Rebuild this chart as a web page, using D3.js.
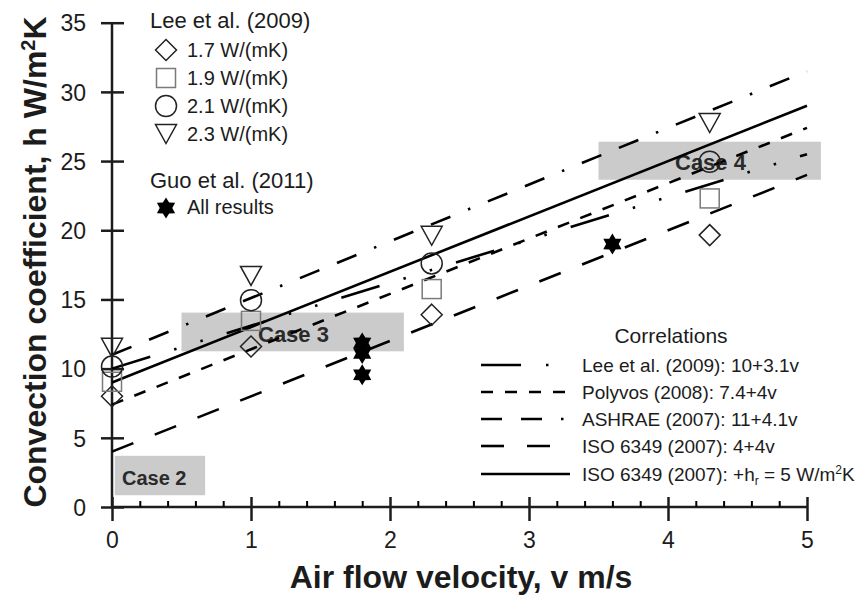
<!DOCTYPE html>
<html>
<head>
<meta charset="utf-8">
<script src="https://cdn.jsdelivr.net/npm/d3@7"></script>
<style>
  html, body { margin: 0; padding: 0; background: #fff; }
  svg { display: block; font-family: "Liberation Sans", Arial, sans-serif; }
</style>
</head>
<body>
<svg id="chart" width="865" height="601"></svg>
<script>
// Lee et al. (2009): measured h at four air velocities for four conductivities
const leeVelocity = [0, 1, 2.3, 4.3];
const lee17 = [8.0, 11.6, 13.9, 19.65];
const lee19 = [9.05, 13.45, 15.75, 22.3];
const lee21 = [10.15, 14.95, 17.6, 24.95];
const lee23 = [11.5, 16.7, 19.6, 27.75];
const leeLabels = ["1.7 W/(mK)", "1.9 W/(mK)", "2.1 W/(mK)", "2.3 W/(mK)"];

// Guo et al. (2011)
const guoVelocity = [1.8, 1.8, 1.8, 3.6];
const guoH = [11.85, 11.1, 9.55, 19.0];

// Linear correlations h = a + b*v
const corrNames = ["Lee et al. (2009): 10+3.1v", "Polyvos (2008): 7.4+4v", "ASHRAE (2007): 11+4.1v", "ISO 6349 (2007): 4+4v", "ISO 6349 (2007): +h"];
const corrIntercept = [10, 7.4, 11, 4, 9];
const corrSlope = [3.1, 4, 4.1, 4, 4];

// Highlighted cases: [v0, v1, h0, h1]
const caseNames = ["Case 2", "Case 3", "Case 4"];
const caseBoxes = [[0.02, 0.67, 0.85, 3.7], [0.5, 2.1, 11.25, 14.05], [3.5, 5.1, 23.65, 26.4]];

const xTicks = [0, 1, 2, 3, 4, 5];
const yTicks = [0, 5, 10, 15, 20, 25, 30, 35];

const svg = d3.select("#chart");
const x = d3.scaleLinear().domain([0, 5]).range([112, 807]);
const y = d3.scaleLinear().domain([0, 35]).range([507, 22.7]);

const ink = "#1c1c1c";
const dashes = ["40,25,2.5,25,2.5,25", "12,12", "21,19,21,19,2.5,19", "23,23", null];

// case boxes
const caseG = svg.append("g");
caseBoxes.forEach((b, i) => {
  caseG.append("rect")
    .attr("x", x(b[0])).attr("width", x(b[1]) - x(b[0]))
    .attr("y", y(b[3])).attr("height", y(b[2]) - y(b[3]))
    .attr("fill", "#cbcbcb");
});
const caseTextPos = [[122, 485, 20], [258, 342, 22], [675, 170, 22]];
caseNames.forEach((n, i) => {
  caseG.append("text").attr("x", caseTextPos[i][0]).attr("y", caseTextPos[i][1])
    .attr("font-size", caseTextPos[i][2]).attr("font-weight", "bold").attr("fill", "#2a2a2a").text(n);
});

// axes
const xAxis = svg.append("g").attr("transform", `translate(0,${y(0)})`)
  .call(d3.axisBottom(x).tickValues(xTicks).tickSize(14).tickPadding(11).tickFormat(d3.format("d")));
xAxis.selectAll(".tick line").attr("y1", -10).attr("stroke-width", 2.5);
const xMinor = d3.range(0, 5.001, 0.2).filter(v => Math.abs(v - Math.round(v)) > 0.01);
svg.append("g").attr("transform", `translate(0,${y(0)})`)
  .call(d3.axisBottom(x).tickValues(xMinor).tickSize(-6).tickFormat(""))
  .call(g => g.select(".domain").remove())
  .selectAll(".tick line").attr("stroke-width", 2);

const yAxis = svg.append("g").attr("transform", `translate(${x(0)},0)`)
  .call(d3.axisLeft(y).tickValues(yTicks).tickSize(11).tickPadding(15).tickFormat(d3.format("d")));
yAxis.selectAll(".tick line").attr("x1", 12).attr("stroke-width", 2.5);

[xAxis, yAxis].forEach(a => {
  a.select(".domain").attr("stroke", ink).attr("stroke-width", 2.5).attr("d",
    a === xAxis ? `M${x(0)},0H${x(5)}` : `M0,${y(0)}V${y(35)}`);
  a.selectAll(".tick text").attr("font-size", 23).attr("fill", ink).attr("font-family", "Liberation Sans, Arial, sans-serif");
  a.selectAll(".tick line").attr("stroke", ink);
});
yAxis.selectAll(".tick text").attr("dy", "0.36em");

svg.append("text").attr("x", 461).attr("y", 588).attr("text-anchor", "middle")
  .attr("font-size", 32).attr("font-weight", "bold").attr("fill", ink).text("Air flow velocity, v m/s");
const yTitle = svg.append("text").attr("transform", "translate(46,262) rotate(-90)").attr("text-anchor", "middle")
  .attr("font-size", 32).attr("font-weight", "bold").attr("fill", ink);
yTitle.append("tspan").text("Convection coefficient, h W/m");
yTitle.append("tspan").attr("font-size", 20).attr("dy", -11).text("2");
yTitle.append("tspan").attr("dy", 11).text("K");

// correlation lines
const line = d3.line().x(d => x(d[0])).y(d => y(d[1]));
corrIntercept.forEach((a, i) => {
  const pts = [0, 5].map(v => [v, a + corrSlope[i] * v]);
  svg.append("path").attr("d", line(pts)).attr("fill", "none").attr("stroke", "#000")
    .attr("stroke-width", 2.6).attr("stroke-dasharray", dashes[i]);
});

// marker shapes
const starPath = (R) => {
  const r = R * 0.6, pts = [];
  for (let k = 0; k < 12; k++) {
    const ang = -Math.PI / 2 + k * Math.PI / 6, rad = k % 2 ? r : R;
    pts.push([rad * Math.cos(ang), rad * Math.sin(ang)]);
  }
  return "M" + pts.map(p => p.join(",")).join("L") + "Z";
};
const markers = [
  g => g.append("path").attr("d", "M0,-10.5L10.5,0L0,10.5L-10.5,0Z").attr("fill", "#fff").attr("stroke", "#222").attr("stroke-width", 1.5),
  g => g.append("rect").attr("x", -9.5).attr("y", -9.5).attr("width", 19).attr("height", 19).attr("fill", "#fff").attr("stroke", "#7a7a7a").attr("stroke-width", 1.5),
  g => g.append("circle").attr("r", 10.5).attr("fill", "#fff").attr("stroke", "#222").attr("stroke-width", 1.5),
  g => g.append("path").attr("d", "M-10.5,-9.5L10.5,-9.5L0,9.5Z").attr("fill", "#fff").attr("stroke", "#222").attr("stroke-width", 1.5)
];
const starMarker = g => g.append("path").attr("d", starPath(10.5)).attr("fill", "#000");

// data points (open markers are transparent in the plot area)
[lee17, lee19, lee21, lee23].forEach((series, si) => {
  series.forEach((h, k) => {
    const g = svg.append("g").attr("transform", `translate(${x(leeVelocity[k])},${y(h)})`);
    markers[si](g).attr("fill", "none");
  });
});
guoH.forEach((h, k) => {
  starMarker(svg.append("g").attr("transform", `translate(${x(guoVelocity[k])},${y(h)})`));
});

// top-left legend
const lg = svg.append("g").attr("fill", ink);
lg.append("text").attr("x", 150).attr("y", 28).attr("font-size", 22).text("Lee et al. (2009)");
const legRows = [50, 78, 106, 134];
leeLabels.forEach((t, i) => {
  markers[i](lg.append("g").attr("transform", `translate(166,${legRows[i]})`));
  lg.append("text").attr("x", 187).attr("y", legRows[i] + 7).attr("font-size", 20).text(t);
});
lg.append("text").attr("x", 150).attr("y", 188).attr("font-size", 22).text("Guo et al. (2011)");
starMarker(lg.append("g").attr("transform", "translate(166,208)"));
lg.append("text").attr("x", 187).attr("y", 214).attr("font-size", 20).text("All results");

// correlation legend
const cg = svg.append("g").attr("fill", ink);
cg.append("text").attr("x", 671).attr("y", 343).attr("text-anchor", "middle").attr("font-size", 21).text("Correlations");
const corrRows = [365, 392, 419, 446, 474];
corrNames.forEach((n, i) => {
  cg.append("path").attr("d", `M481,${corrRows[i]}H570`).attr("stroke", "#000").attr("stroke-width", 2.6)
    .attr("stroke-dasharray", dashes[i]).attr("fill", "none");
  const t = cg.append("text").attr("x", 582).attr("y", corrRows[i] + 7).attr("font-size", 19).text(n);
  if (i === 4) {
    t.append("tspan").attr("font-size", 12).attr("dy", 4).text("r");
    t.append("tspan").attr("dy", -4).text(" = 5 W/m");
    t.append("tspan").attr("font-size", 12).attr("dy", -7).text("2");
    t.append("tspan").attr("dy", 7).text("K");
  }
});
</script>
</body>
</html>
